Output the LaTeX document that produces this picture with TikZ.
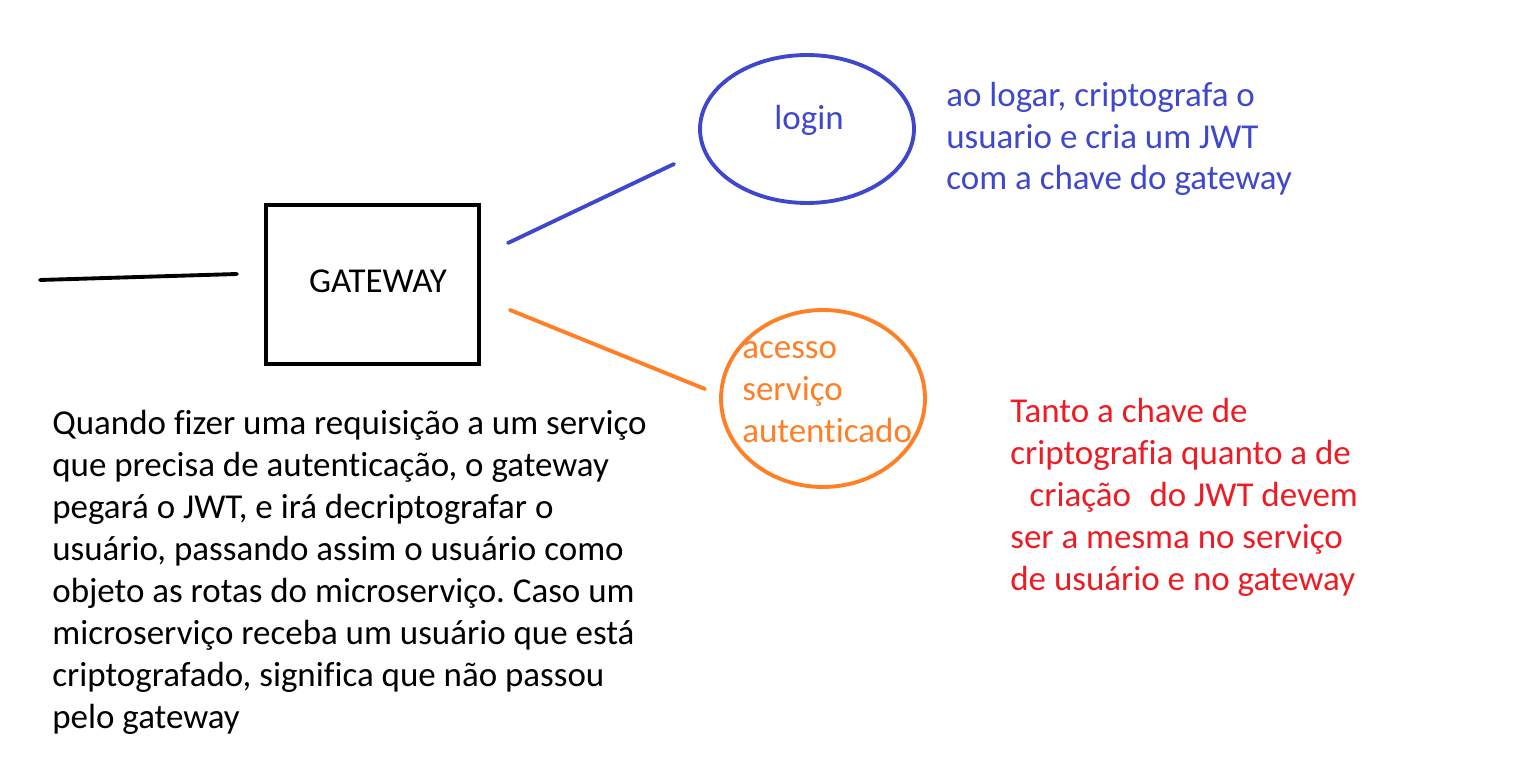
\documentclass[tikz,border=0pt]{standalone}
\usepackage{fontspec}
\setmainfont{Carlito}[Ligatures=NoCommon]
\usetikzlibrary{shapes.geometric}
\definecolor{paintblue}{RGB}{63,72,204}
\definecolor{paintorange}{RGB}{255,127,39}
\definecolor{paintred}{RGB}{237,28,36}
\frenchspacing

\begin{document}
\begin{tikzpicture}[x=0.02cm, y=-0.02cm,
        txt/.style={anchor=base west, align=left, inner sep=0pt, font=\fontsize{19.9}{23.9}\selectfont},
        wire/.style={line width=2.2pt, line cap=round},
        bubble/.style={draw, ellipse, line width=2.2pt, inner sep=0pt}
    ]
    \useasboundingbox (0,0) rectangle (1527,766);

    % gateway box
    \node[draw, line width=2.3pt, minimum width=4.26cm, minimum height=3.18cm, inner sep=0pt] (gw) at (372.5,284.5) {};
    \node[txt, anchor=base] (gwtext) at (378,293) {GATEWAY};

    % login
    \node[bubble, paintblue, minimum width=4.28cm, minimum height=2.96cm] (login) at (807,129) {};
    \node[txt, anchor=base, text=paintblue] (logintext) at (809,130) {login};
    \node[txt, text=paintblue] (logininfo) at (946,190) {ao logar, criptografa o\\usuario e cria um JWT\\com a chave do gateway};

    % acesso autenticado
    \node[bubble, paintorange, minimum width=4.08cm, minimum height=3.54cm] (auth) at (823,398.5) {};
    \node[txt, text=paintorange] (authtext) at (742,442) {acesso\\serviço\\autenticado};

    % notes (base anchor sits on the last line)
    \node[txt] (note) at (52,728) {Quando fizer uma requisição a um serviço\\que precisa de autenticação, o gateway\\pegará o JWT, e irá decriptografar o\\usuário, passando assim o usuário como\\objeto as rotas do microserviço. Caso um\\microserviço receba um usuário que está\\criptografado, significa que não passou\\pelo gateway};
    \node[txt, text=paintred] (keynote) at (1010,590) {Tanto a chave de\\criptografia quanto a de\\\hspace*{11pt}criação\hspace{6pt} do JWT devem\\ser a mesma no serviço\\de usuário e no gateway};

    % connectors
    \coordinate (client) at (40,280);
    \coordinate (gwin) at (237,274);
    \coordinate (gwup) at (508,243);
    \coordinate (loginin) at (674,164);
    \coordinate (gwdown) at (510,310);
    \coordinate (authin) at (705,389);
    \draw[wire] (client) -- (gwin);
    \draw[wire, paintblue] (gwup) -- (loginin);
    \draw[wire, paintorange] (gwdown) -- (authin);
\end{tikzpicture}
\end{document}
